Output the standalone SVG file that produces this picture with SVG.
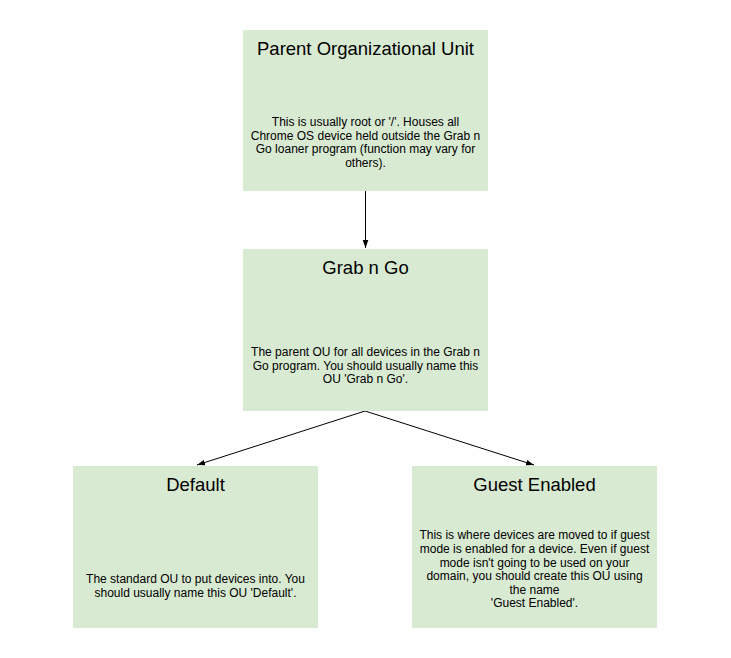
<svg xmlns="http://www.w3.org/2000/svg" width="731" height="658" viewBox="0 0 731 658">
<style>
.box{fill:#d9ead3;stroke:none}
.t{font-family:"Liberation Sans",Arial,sans-serif;font-size:18.5px;fill:#000;text-anchor:middle}
.b{font-family:"Liberation Sans",Arial,sans-serif;font-size:12px;fill:#000;text-anchor:middle}
.c{stroke:#000;stroke-width:1;fill:none;marker-end:url(#ah)}
</style>
<defs>
<marker id="ah" viewBox="0 0 10 10" refX="10" refY="5" markerWidth="8" markerHeight="8" markerUnits="userSpaceOnUse" orient="auto">
<path d="M0,1.5 L10,5 L0,8.5 z" fill="#000"/>
</marker>
</defs>
<rect width="731" height="658" fill="#fff"/>
<g id="connectors">
<line class="c" x1="365.5" y1="191" x2="365.5" y2="248"/>
<line class="c" x1="365" y1="411" x2="197" y2="465"/>
<line class="c" x1="365" y1="411" x2="534" y2="465"/>
</g>
<g id="parent">
<rect class="box" x="243" y="30" width="245" height="161"/>
<text class="t" x="365.5" y="55">Parent Organizational Unit</text>
<text class="b" x="365.5" y="126">This is usually root or '/'. Houses all</text>
<text class="b" x="365.5" y="139.5">Chrome OS device held outside the Grab n</text>
<text class="b" x="365.5" y="153">Go loaner program (function may vary for</text>
<text class="b" x="365.5" y="166.5">others).</text>
</g>
<g id="grabngo">
<rect class="box" x="243" y="249" width="245" height="162"/>
<text class="t" x="365.5" y="274">Grab n Go</text>
<text class="b" x="365.5" y="356">The parent OU for all devices in the Grab n</text>
<text class="b" x="365.5" y="369.5">Go program. You should usually name this</text>
<text class="b" x="365.5" y="383">OU 'Grab n Go'.</text>
</g>
<g id="default">
<rect class="box" x="73" y="466" width="245" height="162"/>
<text class="t" x="195.5" y="491">Default</text>
<text class="b" x="195.5" y="583">The standard OU to put devices into. You</text>
<text class="b" x="195.5" y="597">should usually name this OU 'Default'.</text>
</g>
<g id="guest">
<rect class="box" x="412" y="466" width="245" height="162"/>
<text class="t" x="534.5" y="491">Guest Enabled</text>
<text class="b" x="534.5" y="539">This is where devices are moved to if guest</text>
<text class="b" x="534.5" y="553">mode is enabled for a device. Even if guest</text>
<text class="b" x="534.5" y="566.5">mode isn't going to be used on your</text>
<text class="b" x="534.5" y="580">domain, you should create this OU using</text>
<text class="b" x="534.5" y="593.5">the name</text>
<text class="b" x="534.5" y="607">'Guest Enabled'.</text>
</g>
</svg>
